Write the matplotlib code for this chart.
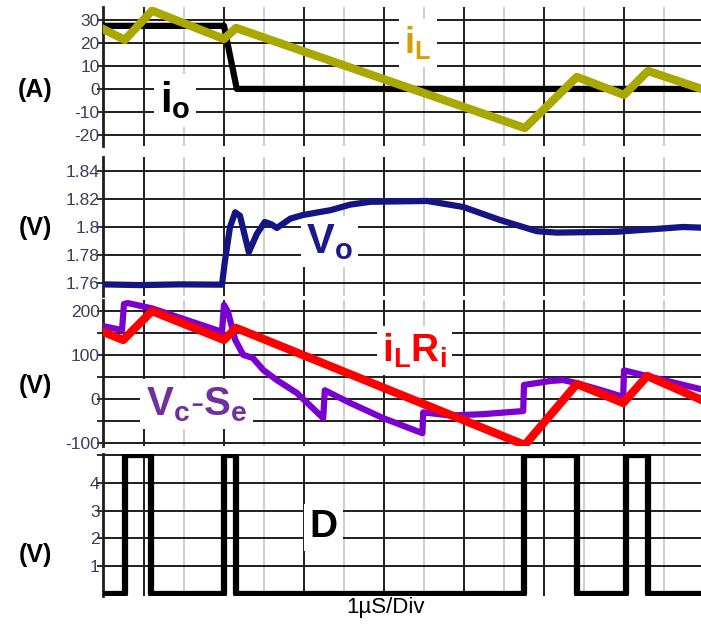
import numpy as np
import matplotlib
matplotlib.use("Agg")
import matplotlib.pyplot as plt
from matplotlib.ticker import FixedLocator

plt.rcParams['font.family'] = ['Liberation Sans', 'DejaVu Sans']
plt.rcParams['mathtext.fontset'] = 'custom'
plt.rcParams['mathtext.rm'] = 'Liberation Sans'
plt.rcParams['mathtext.bf'] = 'Liberation Sans:bold'

# =====================================================
# DATA (time in divisions, read from the scope capture)
# =====================================================

iL_t = [-0.01, 0.26, 0.60, 1.50, 1.65, 5.26, 5.91, 6.50, 6.80, 7.47]
iL_v = [26.0, 21.3, 34.0, 21.7, 26.5, -17.0, 5.2, -2.6, 7.8, 0.0]

io_t = [-0.01, 1.50, 1.66, 7.47]
io_v = [27.4, 27.4, 0.0, 0.0]

vo_t = [-0.01, 0.45, 0.95, 1.475, 1.51, 1.575, 1.64, 1.70, 1.81, 1.91,
        2.01, 2.09, 2.16, 2.33, 2.49, 2.83, 3.08, 3.33, 4.04, 4.49,
        4.95, 5.41, 5.66, 6.41, 7.24, 7.47]
vo_v = [1.7590, 1.7585, 1.7590, 1.7588, 1.775, 1.800, 1.8105, 1.808, 1.782, 1.795,
        1.8036, 1.802, 1.7993, 1.806, 1.8086, 1.812, 1.816, 1.818, 1.8186, 1.8143,
        1.805, 1.797, 1.796, 1.7966, 1.800, 1.7995]

ilri_t = [-0.01, 0.24, 0.60, 1.50, 1.65, 5.26, 5.91, 6.49, 6.79, 7.47]
ilri_v = [151.8, 133.7, 199.0, 133.7, 160.9, -103.8, 34.2, -8.8, 52.3, -2.0]

vcse_t = [-0.01, 0.225, 0.25, 0.30, 0.60, 1.475, 1.50, 1.55, 1.64, 1.74,
          1.86, 1.99, 2.16, 2.41, 2.74, 2.76, 3.08, 3.49, 3.98, 3.99,
          4.33, 4.74, 5.24, 5.25, 5.58, 5.74, 5.91, 6.20, 6.49, 6.50,
          6.79, 7.47]
vcse_v = [165, 156, 215, 217, 205, 152, 213, 197, 134, 100,
          93, 66, 43, 14, -43, 20, -9, -43, -77, -30,
          -37, -34, -27, 32, 41, 43, 36, 21, 5, 65,
          52, 22]

d_t = [-0.01, 0.2625, 0.2625, 0.5875, 0.5875, 1.50, 1.50, 1.65, 1.65,
       5.25, 5.25, 5.9125, 5.9125, 6.525, 6.525, 6.80, 6.80, 7.47]
d_v = [0, 0, 5, 5, 0, 0, 5, 5, 0,
       0, 5, 5, 0, 0, 5, 5, 0, 0]

# =====================================================
# LAYOUT
# =====================================================

W, H = 701, 626
fig = plt.figure(figsize=(W / 100, H / 100), dpi=100)
fig.patch.set_facecolor('white')


def px_axes(x0, y0, x1, y1):
    return fig.add_axes([x0 / W, 1 - y1 / H, (x1 - x0) / W, (y1 - y0) / H])


TICK_COLOR = '#3c3c5c'
DARK = '#1e1e1e'
LIGHT = '#cfcfcf'


def style(ax, ylim, yticks, ylabels, unit, unit_y):
    ax.set_xlim(-0.0125, 7.4625)
    ax.set_ylim(*ylim)
    ax.xaxis.set_major_locator(FixedLocator(np.arange(0.5, 7.5, 1.0)))
    ax.xaxis.set_minor_locator(FixedLocator(np.arange(1.0, 7.5, 1.0)))
    ax.set_yticks(yticks)
    ax.set_yticklabels(ylabels)
    ax.tick_params(axis='x', which='both', length=0, labelbottom=False)
    ax.tick_params(axis='y', length=4.5, width=1.3, color=DARK, pad=-2,
                   labelsize=12.5, labelcolor=TICK_COLOR)
    ax.grid(which='major', axis='x', color=DARK, lw=1.4)
    ax.grid(which='minor', axis='x', color=LIGHT, lw=1.4)
    ax.grid(which='major', axis='y', color=DARK, lw=1.4)
    ax.set_axisbelow(True)
    for s in ['top', 'right', 'bottom']:
        ax.spines[s].set_visible(False)
    ax.spines['left'].set_linewidth(2)
    ax.spines['left'].set_color(DARK)
    fig.text(35 / W, 1 - unit_y / H, unit, ha='center', va='center',
             fontsize=18, fontweight='bold')


box = dict(facecolor='white', edgecolor='none', pad=4)

# =====================================================
# PANEL 1 : currents
# =====================================================

ax1 = px_axes(103, 7, 701, 146)
style(ax1, (-24.8, 35.6), [-20, -10, 0, 10, 20, 30],
      ['-20', '-10', '0', '10', '20', '30'], '(A)', 90)
ax1.plot(io_t, io_v, color='black', lw=4.5, zorder=4, solid_joinstyle='round')
ax1.plot(iL_t, iL_v, color='#A9A800', lw=6, zorder=5, solid_joinstyle='round')
ax1.text(0.89, -5, r'$\mathbf{i}_\mathbf{o}$', fontsize=30, color='black',
         ha='center', va='center', bbox=box, zorder=3)
ax1.text(3.92, 20, r'$\mathbf{i}_\mathbf{L}$', fontsize=26, color='#D4A000',
         ha='center', va='center', bbox=box, zorder=3)

# =====================================================
# PANEL 2 : output voltage
# =====================================================

ax2 = px_axes(103, 157, 701, 296)
style(ax2, (1.7507, 1.8500), [1.76, 1.78, 1.80, 1.82, 1.84],
      ['1.76', '1.78', '1.8', '1.82', '1.84'], '(V)', 228)
ax2.plot(vo_t, vo_v, color='#141483', lw=4.5, zorder=4, solid_joinstyle='round')
ax2.text(2.82, 1.7895, r'$\mathbf{V}_\mathbf{o}$', fontsize=30, color='#1a1a8a',
         ha='center', va='center', bbox=box, zorder=3)

# =====================================================
# PANEL 3 : control signals
# =====================================================

ax3 = px_axes(103, 300, 701, 446)
style(ax3, (-106, 224), [-100, -50, 0, 50, 100, 150, 200],
      ['-100', '', '0', '', '100', '', '200'], '(V)', 386)
ax3.plot(vcse_t, vcse_v, color='#7B00D0', lw=4.5, zorder=4, solid_joinstyle='round')
ax3.plot(ilri_t, ilri_v, color='#FF0000', lw=6, zorder=5, solid_joinstyle='round')
ax3.text(3.88, 110, r'$\mathbf{i}_\mathbf{L}\mathbf{R}_\mathbf{i}$', fontsize=28,
         color='#FF0000', ha='center', va='center', bbox=box, zorder=3)
ax3.text(1.16, -12, r'$\mathbf{V}_\mathbf{c}\mathbf{\text{-}S}_\mathbf{e}$', fontsize=29,
         color='#7030A0', ha='center', va='center', bbox=box, zorder=3)

# =====================================================
# PANEL 4 : duty signal
# =====================================================

ax4 = px_axes(103, 454, 701, 596)
style(ax4, (-0.07, 5.03), [1, 2, 3, 4, 5],
      ['1', '2', '3', '4', ''], '(V)', 555)
ax4.plot(d_t, d_v, color='black', lw=4.5, zorder=4, solid_joinstyle='round')
ax4.text(2.74, 2.4, r'$\mathbf{D}$', fontsize=28, color='black',
         ha='center', va='center', bbox=box, zorder=3)

fig.text(386 / W, 1 - 608 / H, '1\u00b5S/Div', ha='center', va='center', fontsize=16)

fig.savefig("out.png", dpi=100)
